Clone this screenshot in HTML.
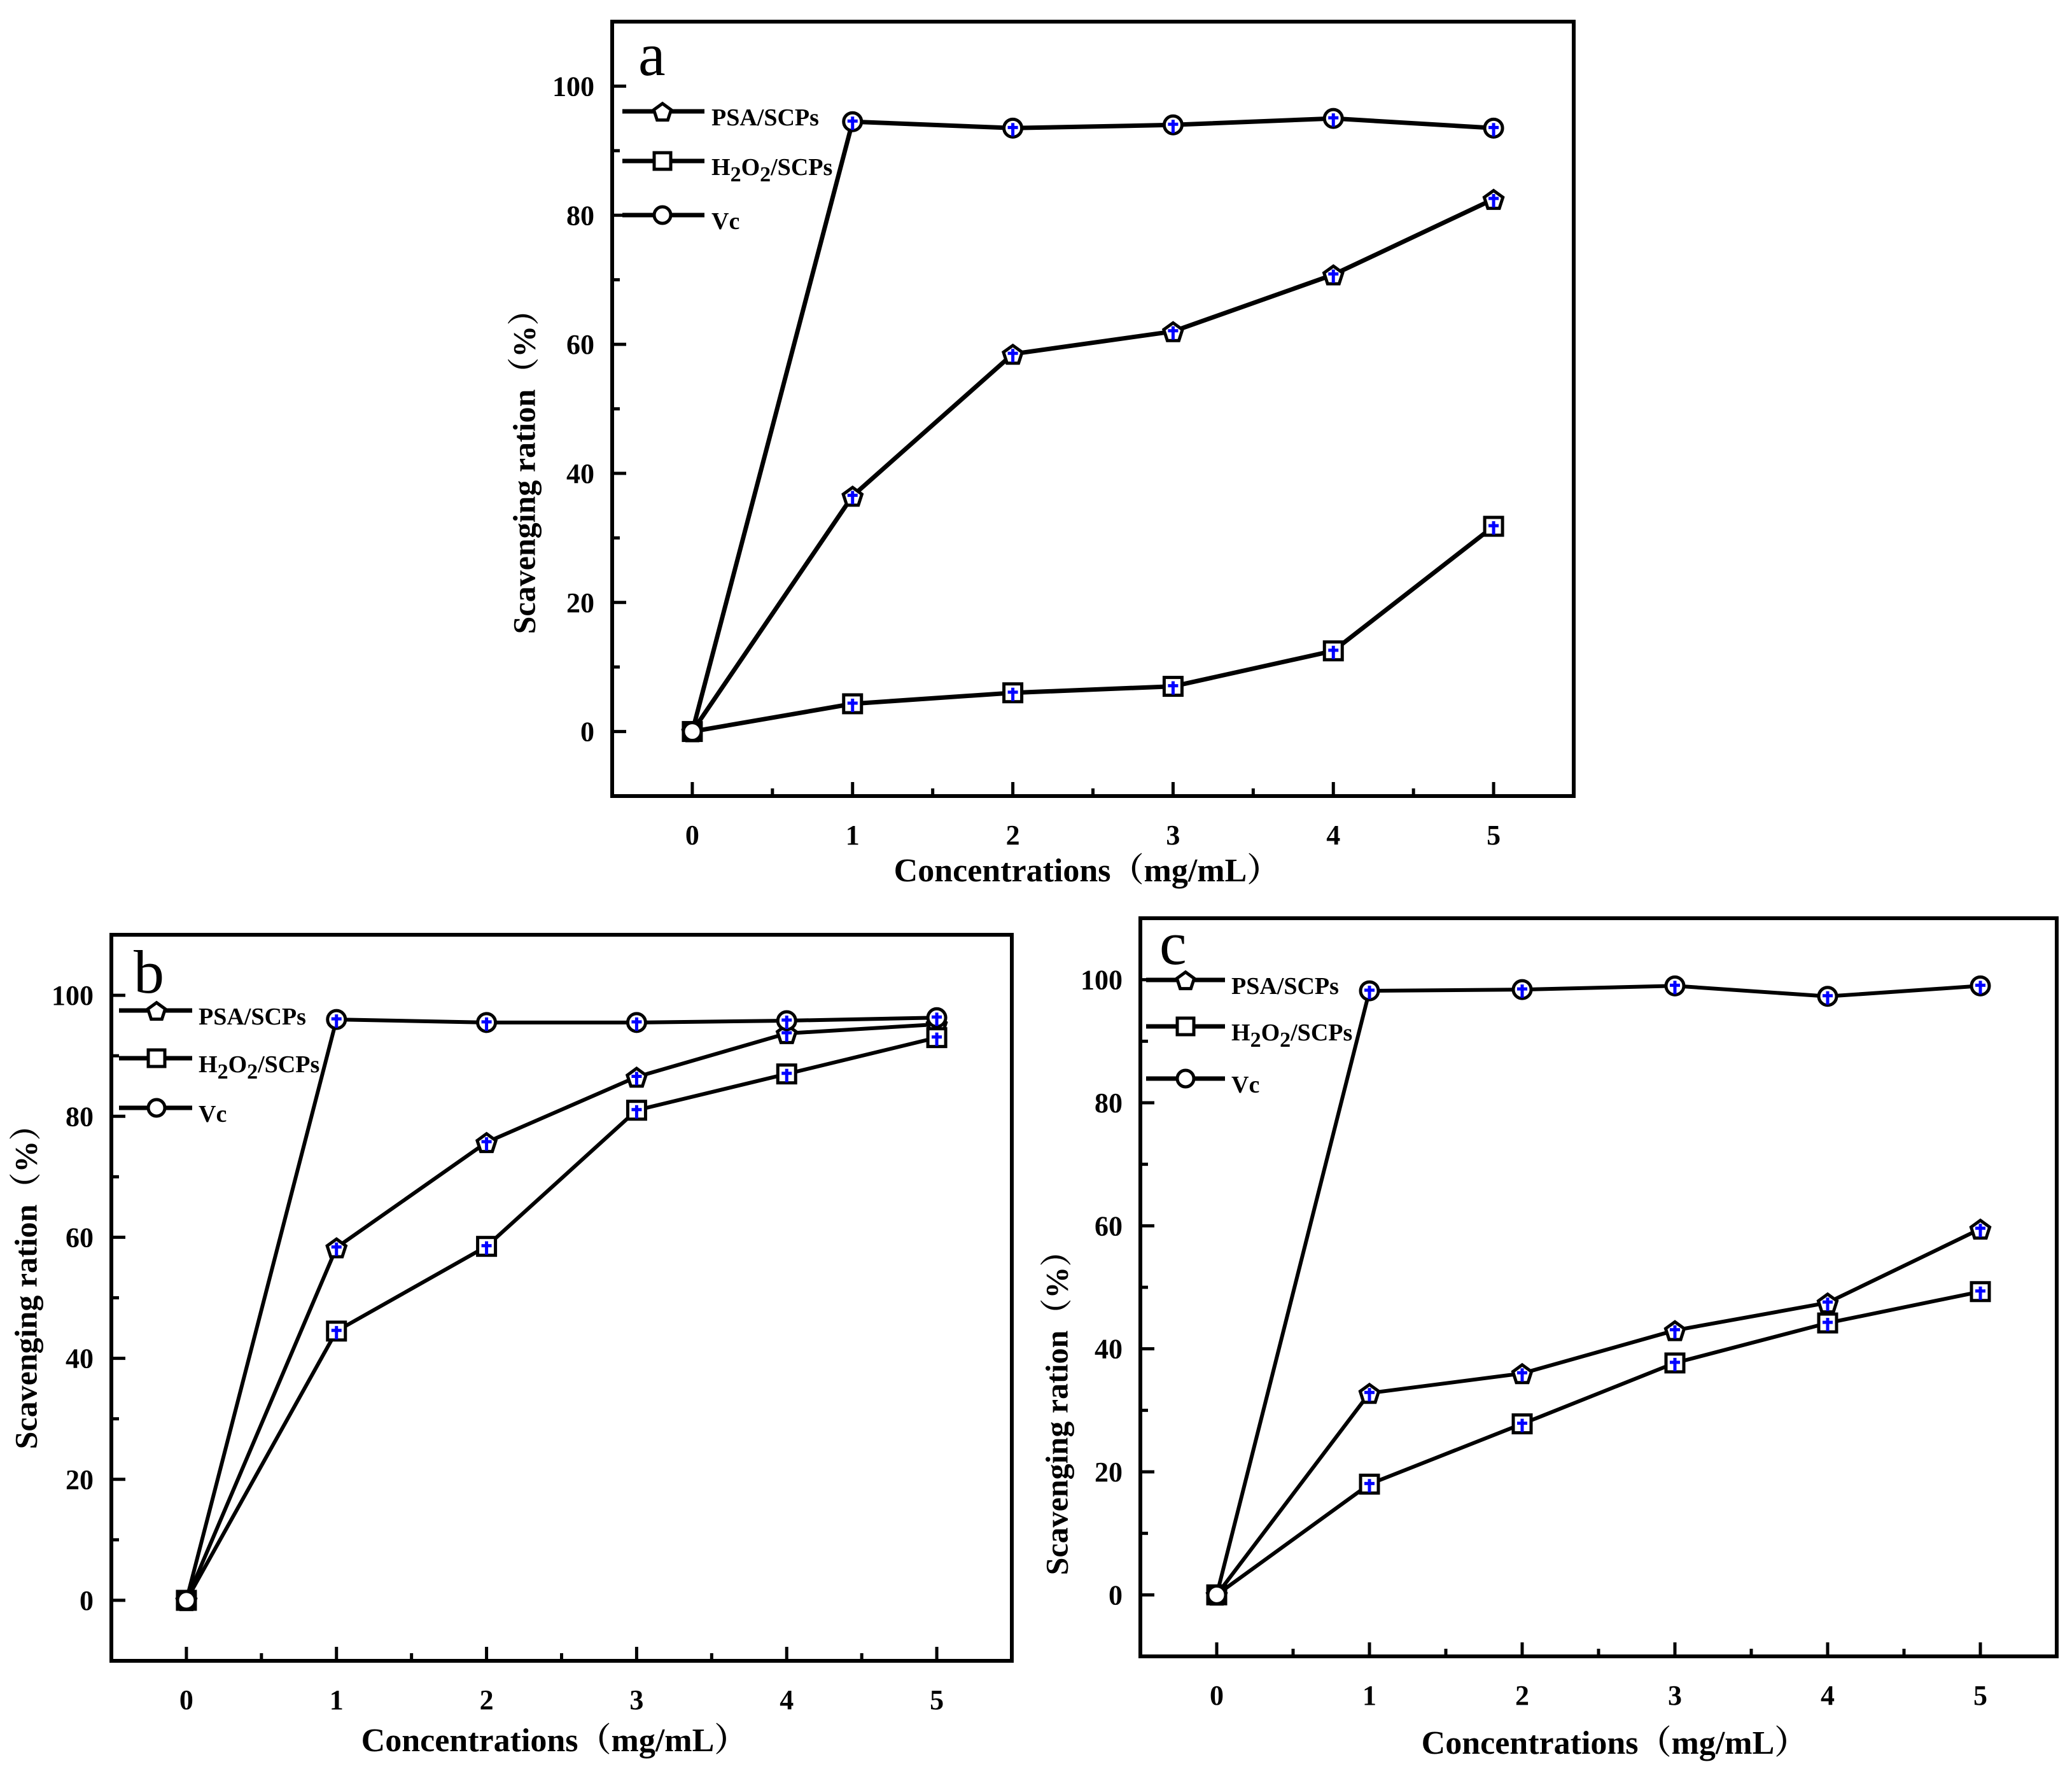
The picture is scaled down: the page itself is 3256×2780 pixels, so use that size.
<!DOCTYPE html>
<html><head><meta charset="utf-8"><style>
html,body{margin:0;padding:0;background:#fff}
svg{display:block}
text{font-family:"Liberation Serif","Noto Serif CJK SC",serif;fill:#000}
</style></head><body>
<svg id="fig" width="3256" height="2780" viewBox="0 0 3256 2780" xmlns="http://www.w3.org/2000/svg"></svg>
<script>
const categories = [0, 1, 2, 3, 4, 5];
const xTicks = ["0", "1", "2", "3", "4", "5"];
const yTicks = [0, 20, 40, 60, 80, 100];
const seriesNames = ["PSA/SCPs", "H2O2/SCPs", "Vc"];
const aPSA = [0, 36.5, 58.5, 62, 70.8, 82.5];
const aH2O2 = [0, 4.3, 6, 7, 12.5, 31.8];
const aVc = [0, 94.5, 93.5, 94, 95, 93.5];
const bPSA = [0, 58.3, 75.7, 86.5, 93.7, 95.2];
const bH2O2 = [0, 44.5, 58.5, 81, 87, 93];
const bVc = [0, 96, 95.5, 95.5, 95.8, 96.3];
const cPSA = [0, 32.8, 36, 43, 47.5, 59.5];
const cH2O2 = [0, 18, 27.8, 37.7, 44.2, 49.3];
const cVc = [0, 98.2, 98.4, 99, 97.3, 99];

const NS = "http://www.w3.org/2000/svg";
const svg = document.getElementById('fig');
function mk(tag, attrs, parent){
  const e = document.createElementNS(NS, tag);
  for (const k in attrs) e.setAttribute(k, attrs[k]);
  (parent||svg).appendChild(e);
  return e;
}
function marker(g, kind, cx, cy, r){
  let m;
  if (kind === 0){
    const pts=[];
    for(let i=0;i<5;i++){const a=-Math.PI/2+i*2*Math.PI/5;pts.push((cx+r*1.1*Math.cos(a)).toFixed(1)+','+(cy+r*1.1*Math.sin(a)+2).toFixed(1));}
    m = mk('polygon',{points:pts.join(' '),fill:'#fff',stroke:'#000','stroke-width':5},g);
  } else if (kind === 1){
    m = mk('rect',{x:cx-r,y:cy-r,width:2*r,height:2*r,fill:'#fff',stroke:'#000','stroke-width':5},g);
  } else {
    m = mk('circle',{cx:cx,cy:cy,r:r,fill:'#fff',stroke:'#000','stroke-width':5},g);
  }
  return m;
}
const panels = [
  {id:'a', L:962, R:2473, T:34, B:1251, series:[aPSA,aH2O2,aVc], lw:7,
   letter:[1003,118], ytitle:[829,729], xtitle:[1708,1385],
   leg:{x1:978,x2:1107,mx:1041,tx:1118,ys:[175,253,338]}},
  {id:'b', L:175, R:1590, T:1469, B:2610, series:[bPSA,bH2O2,bVc], lw:6,
   letter:[210,1560], ytitle:[46,2010], xtitle:[871,2752],
   leg:{x1:187,x2:302,mx:246,tx:312,ys:[1588,1663,1741]}},
  {id:'c', L:1792, R:3232, T:1443, B:2603, series:[cPSA,cH2O2,cVc], lw:6,
   letter:[1822,1515], ytitle:[1666,2208], xtitle:[2537,2756],
   leg:{x1:1801,x2:1925,mx:1863,tx:1935,ys:[1540,1613,1695]}}
];
panels.forEach(p=>{
  const g = mk('g',{});
  
  
  const xs = v => p.L + (v + 0.5) / 6 * (p.R - p.L);
  const ys = v => p.B - (v + 10) / 120 * (p.B - p.T);
  const fr = mk('rect',{x:p.L,y:p.T,width:p.R-p.L,height:p.B-p.T,fill:'none',stroke:'#000','stroke-width':6},g);
  
  
  categories.forEach((c,i)=>{
    mk('line',{x1:xs(c),x2:xs(c),y1:p.B,y2:p.B-22,stroke:'#000','stroke-width':5},g);
    if (i<categories.length-1) mk('line',{x1:xs(c+0.5),x2:xs(c+0.5),y1:p.B,y2:p.B-12,stroke:'#000','stroke-width':5},g);
    const t = mk('text',{x:xs(c),y:p.B+76,'text-anchor':'middle','font-size':44,'font-weight':'bold'},g);
    t.textContent = xTicks[i];
    
    
  });
  yTicks.forEach(v=>{
    mk('line',{x1:p.L,x2:p.L+22,y1:ys(v),y2:ys(v),stroke:'#000','stroke-width':5},g);
    mk('line',{x1:p.L,x2:p.L+12,y1:ys(v+10),y2:ys(v+10),stroke:'#000','stroke-width':5},g);
    const t = mk('text',{x:p.L-28,y:ys(v)+15,'text-anchor':'end','font-size':44,'font-weight':'bold'},g);
    t.textContent = v;
    
    
  });
  p.series.forEach((vals,si)=>{
    const pts = categories.map((c,i)=>xs(c).toFixed(1)+','+ys(vals[i]).toFixed(1)).join(' ');
    const pl = mk('polyline',{points:pts,fill:'none',stroke:'#000','stroke-width':p.lw,'stroke-linejoin':'round'},g);
    
    
  });
  p.series.forEach((vals,si)=>{
    categories.forEach((c,i)=>{
      const cx=xs(c), cy=ys(vals[i]);
      const m = marker(g, si, cx, cy, 14);
      
      
      if (i>0){
        mk('line',{x1:cx,x2:cx,y1:cy-8,y2:cy+13,stroke:'#0000ff','stroke-width':5},g);
        mk('line',{x1:cx-8,x2:cx+8,y1:cy-1,y2:cy-1,stroke:'#0000ff','stroke-width':5},g);
      }
    });
  });
  const lg = p.leg;
  const labels = ['PSA/SCPs', null, 'Vc'];
  lg.ys.forEach((y,si)=>{
    const ln = mk('line',{x1:lg.x1,x2:lg.x2,y1:y,y2:y,stroke:'#000','stroke-width':7},g);
    
    
    marker(g, si, lg.mx, y, 13);
    const t = mk('text',{x:lg.tx,y:y+22,'font-size':38,'font-weight':'bold'},g);
    
    
    if (si===1){
      t.innerHTML = 'H<tspan dy="10" font-size="34">2</tspan><tspan dy="-10">O</tspan><tspan dy="10" font-size="34">2</tspan><tspan dy="-10">/SCPs</tspan>';
    } else t.textContent = labels[si];
  });
  const lt = mk('text',{x:p.letter[0],y:p.letter[1],'font-size':96},g);
  lt.textContent = p.id;
  
  
  const yt = mk('text',{x:p.ytitle[0],y:p.ytitle[1],'font-size':50,'font-weight':'bold','text-anchor':'middle',transform:'rotate(-90 '+p.ytitle[0]+' '+p.ytitle[1]+')','dominant-baseline':'middle'},g);
  yt.textContent = 'Scavenging ration（%）';
  
  
  const xt = mk('text',{x:p.xtitle[0],y:p.xtitle[1],'font-size':52,'font-weight':'bold','text-anchor':'middle'},g);
  xt.textContent = 'Concentrations（mg/mL）';
  
  
});
</script>
</body></html>
